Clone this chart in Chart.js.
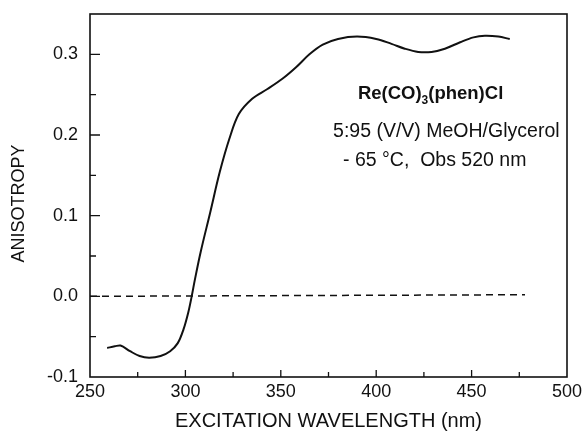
<!DOCTYPE html>
<html>
<head>
<meta charset="utf-8">
<script src="https://cdn.jsdelivr.net/npm/chart.js@4.4.0/dist/chart.umd.min.js"></script>
<style>
  html, body { margin: 0; padding: 0; background: #fff; }
  canvas { display: block; }
</style>
</head>
<body>
<canvas id="anisotropyChart" width="587" height="441"></canvas>
<script>
const wavelength = [259, 263, 266, 271, 276, 281, 287, 292, 296, 299, 301.5, 303.3, 305, 308, 313, 318, 323, 328, 335, 343, 351, 358, 365, 372, 380, 390, 400, 408, 415, 422, 429, 436, 444, 451, 457, 464, 470];
const anisotropy = [-0.064, -0.062, -0.061, -0.068, -0.074, -0.076, -0.074, -0.068, -0.058, -0.041, -0.02, 0, 0.021, 0.055, 0.104, 0.154, 0.195, 0.226, 0.245, 0.257, 0.27, 0.284, 0.3, 0.312, 0.319, 0.322, 0.319, 0.313, 0.307, 0.303, 0.303, 0.307, 0.315, 0.321, 0.323, 0.322, 0.319];

// zero reference (dashed)
const zeroLineX = [250, 478];
const zeroLineY = [0, 0.002];

const xTickLabels = [250, 300, 350, 400, 450, 500];
const yTickLabels = [-0.1, 0.0, 0.1, 0.2, 0.3];

const annotationLines = ["5:95 (V/V) MeOH/Glycerol", "- 65 \u00b0C,  Obs 520 nm"];

const FONT = "'Liberation Sans', Arial, sans-serif";

document.addEventListener("DOMContentLoaded", function () {
    var ctx = document.getElementById("anisotropyChart").getContext("2d");

    // frame, inward tick marks, y title and the text block
    const framePlugin = {
        id: "frame",
        afterDraw(chart) {
            const c = chart.ctx;
            const area = chart.chartArea;
            const xs = chart.scales.x;
            const ys = chart.scales.y;
            c.save();
            c.strokeStyle = "#111";
            c.lineWidth = 1.6;
            c.strokeRect(area.left, area.top, area.right - area.left, area.bottom - area.top);

            c.lineWidth = 1.3;
            c.beginPath();
            xs.ticks.forEach((t) => {
                if (t.value <= xs.min || t.value >= xs.max) return;
                const px = xs.getPixelForValue(t.value);
                const len = xTickLabels.includes(t.value) ? 7 : 5;
                c.moveTo(px, area.bottom);
                c.lineTo(px, area.bottom - len);
            });
            ys.ticks.forEach((t) => {
                if (t.value <= ys.min || t.value >= ys.max) return;
                const py = ys.getPixelForValue(t.value);
                const major = Math.abs(t.value * 10 - Math.round(t.value * 10)) < 1e-6;
                c.moveTo(area.left, py);
                c.lineTo(area.left + (major ? 10 : 6), py);
            });
            c.stroke();

            c.fillStyle = "#111";

            // y axis title, sitting a little below the plot's middle as in the figure
            c.save();
            c.translate(19, ys.getPixelForValue(0.115));
            c.rotate(-Math.PI / 2);
            c.font = "18px " + FONT;
            c.textAlign = "center";
            c.textBaseline = "middle";
            c.fillText("ANISOTROPY", 0, 0);
            c.restore();

            // compound name with subscript
            c.textBaseline = "middle";
            const boldFont = "bold 18.5px " + FONT;
            const subFont = "bold 12px " + FONT;
            c.font = boldFont;
            const partA = "Re(CO)";
            const partB = "(phen)Cl";
            const wA = c.measureText(partA).width;
            const wB = c.measureText(partB).width;
            c.font = subFont;
            const wS = c.measureText("3").width;
            const cx = xs.getPixelForValue(428.5);
            const cy = ys.getPixelForValue(0.251);
            let x0 = cx - (wA + wS + wB) / 2;
            c.font = boldFont;
            c.textAlign = "left";
            c.fillText(partA, x0, cy);
            c.font = subFont;
            c.fillText("3", x0 + wA, cy + 7);
            c.font = boldFont;
            c.fillText(partB, x0 + wA + wS, cy);

            c.font = "19.5px " + FONT;
            c.fillText(annotationLines[0], xs.getPixelForValue(377.4), ys.getPixelForValue(0.204));
            c.fillText(annotationLines[1], xs.getPixelForValue(382.6), ys.getPixelForValue(0.168));
            c.restore();
        },
    };

    var anisotropyChart = new Chart(ctx, {
        type: "line",
        data: {
            datasets: [
                {
                    label: "Anisotropy",
                    data: wavelength.map((w, i) => ({ x: w, y: anisotropy[i] })),
                    borderColor: "#111",
                    borderWidth: 2,
                    pointRadius: 0,
                    tension: 0.35,
                    fill: false,
                },
                {
                    label: "Zero",
                    data: zeroLineX.map((w, i) => ({ x: w, y: zeroLineY[i] })),
                    borderColor: "#111",
                    borderWidth: 1.5,
                    borderDash: [7, 5],
                    pointRadius: 0,
                    fill: false,
                },
            ],
        },
        options: {
            responsive: false,
            animation: false,
            layout: { padding: { top: 14, right: 20, left: 0, bottom: 0 } },
            plugins: {
                legend: { display: false },
                tooltip: { enabled: false },
            },
            scales: {
                x: {
                    type: "linear",
                    min: 250,
                    max: 500,
                    grid: { display: false, drawTicks: false },
                    border: { display: false },
                    ticks: {
                        stepSize: 25,
                        autoSkip: false,
                        maxRotation: 0,
                        padding: 4,
                        color: "#111",
                        font: { family: FONT, size: 18 },
                        callback: (v) => (xTickLabels.includes(v) ? String(v) : ""),
                    },
                    title: {
                        display: true,
                        text: "EXCITATION WAVELENGTH (nm)",
                        color: "#111",
                        font: { family: FONT, size: 20 },
                        padding: { top: 0, bottom: 8 },
                    },
                    afterFit: (scale) => {
                        scale.height = 64;
                        scale.paddingLeft = 0;
                        scale.paddingRight = 0;
                    },
                },
                y: {
                    min: -0.1,
                    max: 0.35,
                    grid: { display: false, drawTicks: false },
                    border: { display: false },
                    ticks: {
                        stepSize: 0.05,
                        autoSkip: false,
                        padding: 12,
                        color: "#111",
                        font: { family: FONT, size: 18 },
                        callback: (v) => {
                            const hit = yTickLabels.find((t) => Math.abs(t - v) < 1e-6);
                            return hit === undefined ? "" : hit.toFixed(1);
                        },
                    },
                    title: { display: false },
                    afterFit: (scale) => {
                        scale.width = 90;
                        scale.paddingTop = 0;
                        scale.paddingBottom = 0;
                    },
                },
            },
        },
        plugins: [framePlugin],
    });
});
</script>
</body>
</html>
